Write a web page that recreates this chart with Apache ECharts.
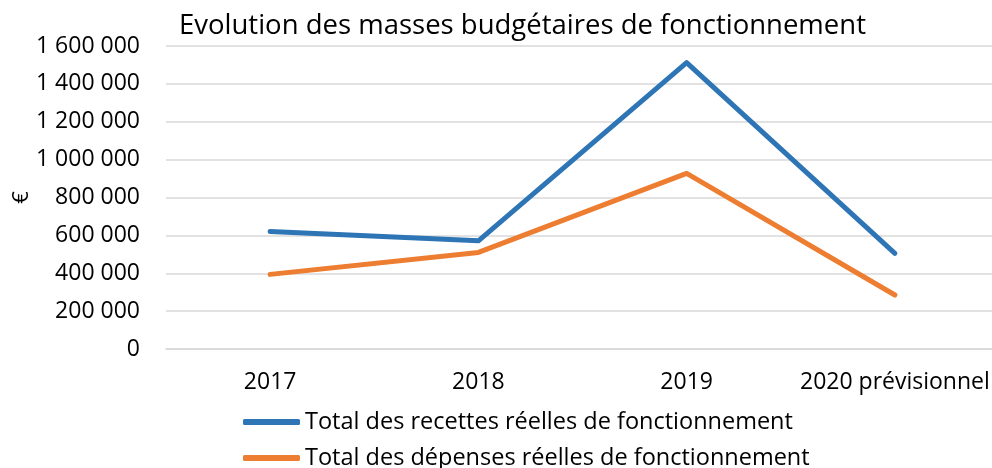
<!DOCTYPE html>
<html>
<head>
<meta charset="utf-8">
<script src="https://cdn.jsdelivr.net/npm/echarts@6/dist/echarts.min.js"></script>
<style>html,body{margin:0;padding:0;background:#fff}#c{width:992px;height:468px}</style>
</head>
<body>
<div id="c"></div>
<script>
const categories = ['2017', '2018', '2019', '2020 prévisionnel'];
const recettes = [621000, 571000, 1512000, 505000];
const depenses = [394000, 510000, 927000, 285000];
const seriesNames = ['Total des recettes réelles de fonctionnement', 'Total des dépenses réelles de fonctionnement'];
const titleText = 'Evolution des masses budgétaires de fonctionnement';
const yName = '€';

const FONT = 'Open Sans';
const fmt = v => String(v).replace(/\B(?=(\d{3})+(?!\d))/g, ' ');
const legendBase = {
  orient: 'horizontal', left: 243, icon: 'roundRect', itemWidth: 57, itemHeight: 6,
  textStyle: {fontFamily: FONT, fontSize: 23.5, color: '#000'}, padding: 0
};
const chart = echarts.init(document.getElementById('c'), null, {renderer: 'canvas'});
chart.setOption({
  animation: false,
  textStyle: {fontFamily: FONT},
  title: {
    text: titleText, left: 174, top: 7,
    textStyle: {fontFamily: FONT, fontSize: 27.5, fontWeight: 'normal', color: '#000'}
  },
  legend: [
    Object.assign({}, legendBase, {top: 410, data: [seriesNames[0]]}),
    Object.assign({}, legendBase, {top: 446, data: [seriesNames[1]]})
  ],
  grid: {left: 166, top: 46, height: 303, width: 833, containLabel: false, outerBoundsMode: 'none'},
  xAxis: {
    type: 'category', data: categories, boundaryGap: true,
    axisLine: {show: true, lineStyle: {color: '#D9D9D9', width: 1.5}},
    axisTick: {show: false},
    axisLabel: {fontFamily: FONT, fontSize: 23, color: '#000', margin: 22, interval: 0}
  },
  yAxis: {
    type: 'value', min: 0, max: 1600000, interval: 200000,
    name: yName, nameLocation: 'middle', nameGap: 133, nameRotate: 90, nameMoveOverlap: false,
    nameTextStyle: {fontFamily: FONT, fontSize: 22, color: '#000'},
    axisLine: {show: false}, axisTick: {show: false},
    axisLabel: {fontFamily: FONT, fontSize: 23, color: '#000', margin: 26, formatter: fmt},
    splitLine: {lineStyle: {color: '#D9D9D9', width: 1.5}}
  },
  series: [
    {name: seriesNames[0], type: 'line', data: recettes, symbol: 'none',
     lineStyle: {color: '#2E75B6', width: 5, cap: 'round', join: 'round'}, itemStyle: {color: '#2E75B6'}},
    {name: seriesNames[1], type: 'line', data: depenses, symbol: 'none',
     lineStyle: {color: '#ED7D31', width: 5, cap: 'round', join: 'round'}, itemStyle: {color: '#ED7D31'}}
  ]
});
</script>
</body>
</html>
